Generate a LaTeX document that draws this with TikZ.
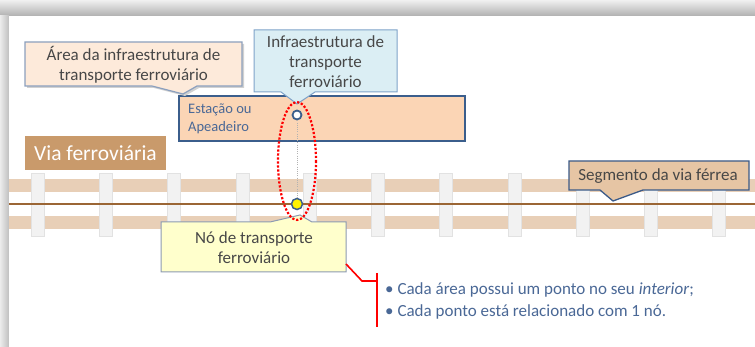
\documentclass[tikz,border=0pt]{standalone}
\usepackage{fontspec}
\setmainfont{Carlito}
\usetikzlibrary{calc}
\definecolor{railband}{HTML}{E8CFB7}
\definecolor{sleeperc}{HTML}{F2F2F2}
\definecolor{sleeperd}{HTML}{E2E2E2}
\definecolor{centerc}{HTML}{9B6635}
\definecolor{viac}{HTML}{C99A6B}
\definecolor{areafill}{HTML}{FDEADA}
\definecolor{areadraw}{HTML}{8CA0BE}
\definecolor{infrafill}{HTML}{DBEEF4}
\definecolor{infradraw}{HTML}{7FA3C9}
\definecolor{estfill}{HTML}{FBD5B5}
\definecolor{estdraw}{HTML}{3B5E8C}
\definecolor{segfill}{HTML}{E6C5A4}
\definecolor{segdraw}{HTML}{3B5A88}
\definecolor{nofill}{HTML}{FFFFCC}
\definecolor{nodraw}{HTML}{8C9AB2}
\definecolor{textgray}{HTML}{474747}
\definecolor{bluetext}{HTML}{4A6896}
\begin{document}
\begin{tikzpicture}[x=1pt,y=-1pt,
  calltext/.style={text=textgray, align=center, inner sep=0pt, font=\fontsize{17}{20}\selectfont},
  callshadow/.style={fill=black!18},
  pt/.style={circle, draw=estdraw, line width=1.8pt, inner sep=0pt},
]
\useasboundingbox (0,0) rectangle (755,347);
% page shadow
\fill[gray!25] (0,0) rectangle (755,347);
\shade[top color=gray!12, bottom color=gray!62] (0,0) rectangle (755,16);
\shade[left color=gray!15, right color=gray!50] (0,16) rectangle (9,347);
\fill[white] (9,16) rectangle (755,347);
% rails
\fill[railband] (9,179) rectangle (755,192);
\fill[railband] (9,216) rectangle (755,229);
\foreach \x in {31,99,167,236,303,371,439,508,576,644,712}
  \filldraw[fill=sleeperc, draw=sleeperd, line width=0.6pt] (\x,173) rectangle ++(13,63);
\draw[centerc, line width=2pt] (9,204) -- (755,204);
% via ferroviaria
\node[fill=viac, minimum width=141pt, minimum height=34pt, inner sep=0pt, text=white,
  font=\fontsize{21.5}{24}\selectfont] (via) at (95.5,153) {Via ferroviária};
% estacao box
\node[draw=estdraw, line width=1.8pt, fill=estfill, minimum width=286pt, minimum height=45pt, inner sep=0pt] (est) at (322,118.5) {};
\node[anchor=west, align=left, text=bluetext, inner sep=0pt, font=\fontsize{14.5}{18}\selectfont] (esttxt) at (188,119) {Estação ou\\Apeadeiro};
% area callout
\fill[callshadow] (27,44) -- (244,44) -- (244,88) -- (199,88) -- (185,96) -- (154,88) -- (27,88) -- cycle;
\filldraw[fill=areafill, draw=areadraw, line width=1.2pt] (25,42) -- (242,42) -- (242,86) -- (197,86) -- (183,94) -- (152,86) -- (25,86) -- cycle;
\node[calltext] (areatxt) at (133.5,64.5) {Área da infraestrutura de\\transporte ferroviário};
% infra callout
\filldraw[fill=infrafill, draw=infradraw, line width=1pt] (254,30) -- (397,30) -- (397,92) -- (315,92) -- (297,104) -- (281,92) -- (254,92) -- cycle;
\node[calltext] (infratxt) at (325.5,61.5) {Infraestrutura de\\transporte\\ferroviário};
% no callout
\filldraw[fill=nofill, draw=nodraw, line width=1pt] (161,222) -- (270,222) -- (300,215) -- (312,222) -- (346,222) -- (346,272) -- (161,272) -- cycle;
\node[calltext] (notxt) at (254,247.5) {Nó de transporte\\ferroviário};
% segmento callout
\filldraw[fill=segfill, draw=segdraw, line width=1.3pt] (569,161) -- (749,161) -- (749,190) -- (643,190) -- (613,201) -- (600,190) -- (569,190) -- cycle;
\node[calltext] (segtxt) at (658,176) {Segmento da via férrea};
% points
\node[pt, fill=white, minimum size=9pt] (ptA) at (297,115) {};
\node[pt, fill=yellow, line width=1.5pt, minimum size=11pt] (ptB) at (297,204) {};
\draw[gray!60, line width=1pt, dash pattern=on 1pt off 1.2pt] (ptA) -- (ptB);
% red dotted ellipse
\draw[red, line width=2.2pt, dash pattern=on 2.2pt off 1.8pt] (297,161) ellipse [x radius=19, y radius=59];
% red connector and bracket
\coordinate (noR) at (346,264);
\coordinate (knee) at (362,281);
\coordinate (bm) at (377,281);
\coordinate (bt) at (377,273);
\coordinate (bb) at (377,327);
\draw[red, line width=1.6pt] (noR) -- (knee) -- (bm);
\draw[red, line width=1.6pt] (bt) -- (bb);
\node[anchor=west, align=left, text=bluetext, inner sep=0pt, font=\fontsize{17}{22}\selectfont] (bul) at (385,301) {• Cada área possui um ponto no seu \textit{interior};\\• Cada ponto está relacionado com 1 nó.};
\end{tikzpicture}
\end{document}
